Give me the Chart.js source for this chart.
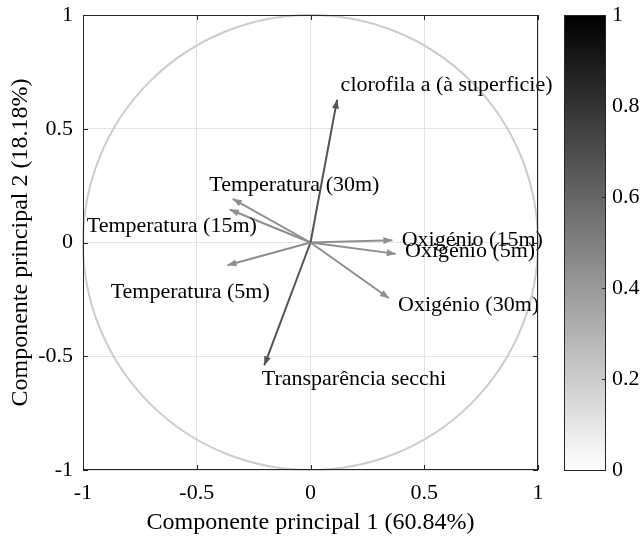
<!DOCTYPE html>
<html>
<head>
<meta charset="utf-8">
<script src="https://cdn.jsdelivr.net/npm/chart.js@4"></script>
<style>
  html, body { margin: 0; padding: 0; background: #fff; }
</style>
</head>
<body>
<canvas id="biplot" width="644" height="537"></canvas>
<script>
// loadings of each variable on the first two principal components
const variables = [
    'clorofila a (à superficie)',
    'Temperatura (30m)',
    'Temperatura (15m)',
    'Oxigénio (15m)',
    'Oxigénio (5m)',
    'Temperatura (5m)',
    'Oxigénio (30m)',
    'Transparência secchi'
];
const pc1 = [0.117, -0.342, -0.355, 0.360, 0.375, -0.365, 0.345, -0.203];
const pc2 = [0.628, 0.192, 0.145, 0.010, -0.050, -0.100, -0.245, -0.540];

const xTicks = [-1, -0.5, 0, 0.5, 1];
const yTicks = [-1, -0.5, 0, 0.5, 1];
const cbTicks = [0, 0.2, 0.4, 0.6, 0.8, 1];

// styling
const arrowColors = ['#545454', '#8e8e8e', '#8e8e8e', '#8e8e8e', '#8e8e8e', '#8e8e8e', '#8e8e8e', '#545454'];
const labelOffsets = [[3.5, -8.3], [-23.4, -7.4], [-143, 22.9], [9.3, 5.5], [9.2, 2.9], [-116.8, 32.8], [9, 13.2], [-2.6, 19.4]];
const serif = "'Liberation Serif', 'Times New Roman', serif";
const axisColor = '#262626';

function fmt(v) { return String(+v.toFixed(2)); }

// keep chart.js from growing the margins around the plot
function fixSize(prop, size) {
    return s => {
        s[prop] = size;
        s.paddingTop = s.paddingBottom = s.paddingLeft = s.paddingRight = 0;
    };
}

const biplotPlugin = {
    id: 'biplot',
    beforeDatasetsDraw(chart) {
        // unit circle
        const {ctx, scales: {x, y}} = chart;
        const cx = x.getPixelForValue(0), cy = y.getPixelForValue(0);
        const rx = x.getPixelForValue(1) - cx, ry = cy - y.getPixelForValue(1);
        ctx.save();
        ctx.strokeStyle = '#cccccc';
        ctx.lineWidth = 2;
        ctx.beginPath();
        ctx.ellipse(cx, cy, rx, ry, 0, 0, Math.PI * 2);
        ctx.stroke();
        ctx.restore();
    },
    afterDatasetsDraw(chart) {
        const ctx = chart.ctx;
        ctx.save();
        chart.data.datasets.forEach((ds, i) => {
            const pts = chart.getDatasetMeta(i).data;
            const o = pts[0], t = pts[1];
            const a = Math.atan2(t.y - o.y, t.x - o.x);
            const L = 9, W = 3.5;
            const bx = t.x - L * Math.cos(a), by = t.y - L * Math.sin(a);
            ctx.fillStyle = arrowColors[i];
            ctx.beginPath();
            ctx.moveTo(t.x, t.y);
            ctx.lineTo(bx - W * Math.sin(a), by + W * Math.cos(a));
            ctx.lineTo(bx + W * Math.sin(a), by - W * Math.cos(a));
            ctx.closePath();
            ctx.fill();
        });
        ctx.font = '22px ' + serif;
        ctx.fillStyle = '#000';
        ctx.textAlign = 'left';
        ctx.textBaseline = 'alphabetic';
        chart.data.datasets.forEach((ds, i) => {
            const t = chart.getDatasetMeta(i).data[1];
            ctx.fillText(ds.label, t.x + labelOffsets[i][0], t.y + labelOffsets[i][1]);
        });
        ctx.restore();
    },
    afterDraw(chart) {
        const {ctx, chartArea: ca, scales: {x, y, cb}} = chart;
        ctx.save();
        // box and inward ticks
        ctx.strokeStyle = axisColor;
        ctx.lineWidth = 1;
        ctx.strokeRect(ca.left + 0.5, ca.top + 0.5, ca.right - ca.left - 1, ca.bottom - ca.top - 1);
        ctx.beginPath();
        x.ticks.forEach(t => {
            const px = Math.round(x.getPixelForValue(t.value)) + 0.5;
            ctx.moveTo(px, ca.bottom); ctx.lineTo(px, ca.bottom - 5);
            ctx.moveTo(px, ca.top); ctx.lineTo(px, ca.top + 5);
        });
        y.ticks.forEach(t => {
            const py = Math.round(y.getPixelForValue(t.value)) + 0.5;
            ctx.moveTo(ca.left, py); ctx.lineTo(ca.left + 5, py);
            ctx.moveTo(ca.right, py); ctx.lineTo(ca.right - 5, py);
        });
        ctx.stroke();

        // colorbar
        const left = ca.right + 26, right = ca.right + 68;
        const top = cb.getPixelForValue(1), bottom = cb.getPixelForValue(0);
        const g = ctx.createLinearGradient(0, top, 0, bottom);
        g.addColorStop(0, '#000000');
        g.addColorStop(1, '#ffffff');
        ctx.fillStyle = g;
        ctx.fillRect(left, top, right - left, bottom - top);
        ctx.strokeStyle = axisColor;
        ctx.strokeRect(left + 0.5, top + 0.5, right - left - 1, bottom - top);
        ctx.beginPath();
        cb.ticks.forEach(t => {
            const py = Math.round(cb.getPixelForValue(t.value)) + 0.5;
            ctx.moveTo(right, py); ctx.lineTo(right - 4, py);
        });
        ctx.stroke();
        ctx.restore();
    }
};

const tickFont = {family: serif, size: 22};
const titleFont = {family: serif, size: 24};

new Chart(document.getElementById('biplot'), {
    type: 'scatter',
    data: {
        datasets: variables.map((name, i) => ({
            label: name,
            data: [{x: 0, y: 0}, {x: pc1[i], y: pc2[i]}],
            showLine: true,
            borderColor: arrowColors[i],
            borderWidth: 2,
            pointRadius: 0,
            yAxisID: 'y',
            xAxisID: 'x'
        }))
    },
    options: {
        responsive: false,
        devicePixelRatio: 1,
        animation: false,
        layout: {padding: {top: 15, left: 0, right: 0, bottom: 0}},
        plugins: {legend: {display: false}, tooltip: {enabled: false}},
        scales: {
            x: {
                type: 'linear', position: 'bottom', min: -1, max: 1,
                afterBuildTicks: s => { s.ticks = xTicks.map(v => ({value: v})); },
                afterFit: fixSize('height', 67),
                grid: {color: '#e4e4e4', drawTicks: false},
                border: {display: false},
                ticks: {font: tickFont, color: '#000', padding: 10, autoSkip: false, maxRotation: 0, callback: fmt},
                title: {display: true, text: 'Componente principal 1 (60.84%)', font: titleFont, color: '#000', padding: {top: 0, bottom: 0}}
            },
            y: {
                type: 'linear', position: 'left', min: -1, max: 1,
                afterBuildTicks: s => { s.ticks = yTicks.map(v => ({value: v})); },
                afterFit: fixSize('width', 83),
                grid: {color: '#e4e4e4', drawTicks: false},
                border: {display: false},
                ticks: {font: tickFont, color: '#000', padding: 10, autoSkip: false, callback: fmt},
                title: {display: true, text: 'Componente principal 2 (18.18%)', font: titleFont, color: '#000', padding: {top: 6, bottom: 0}}
            },
            cb: {
                type: 'linear', position: 'right', min: 0, max: 1,
                afterBuildTicks: s => { s.ticks = cbTicks.map(v => ({value: v})); },
                afterFit: fixSize('width', 106),
                grid: {display: false, drawTicks: false},
                border: {display: false},
                ticks: {font: tickFont, color: '#000', padding: 74, autoSkip: false, callback: fmt}
            }
        }
    },
    plugins: [biplotPlugin]
});
</script>
</body>
</html>
